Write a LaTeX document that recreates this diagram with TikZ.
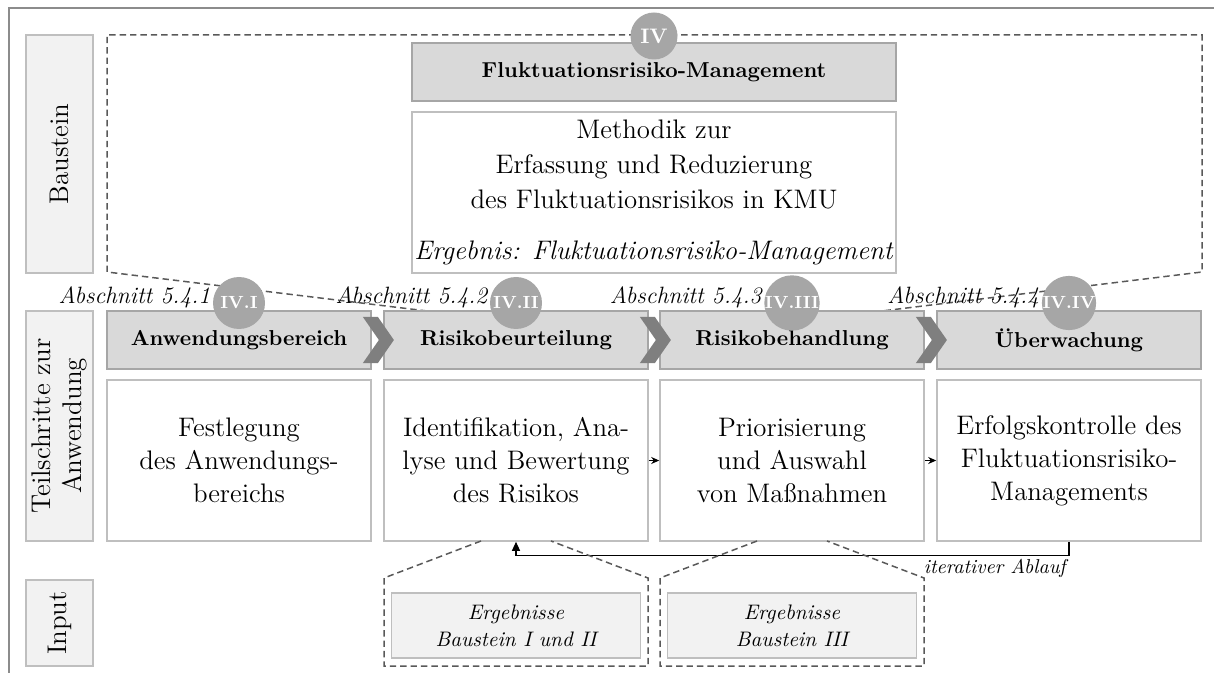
\documentclass[tikz,border=0pt]{standalone}
\usepackage{fontspec}
\usepackage{tikz}
\usetikzlibrary{arrows.meta,positioning,calc}
\definecolor{hdgray}{HTML}{D9D9D9}
\definecolor{lbgray}{HTML}{F2F2F2}
\definecolor{rmgray}{HTML}{BFBFBF}
\definecolor{ctgray}{HTML}{A6A6A6}
\definecolor{chgray}{HTML}{7F7F7F}
\definecolor{dsgray}{HTML}{595959}
\definecolor{frgray}{HTML}{8C8C8C}

\begin{document}
\begin{tikzpicture}[x=0.5pt,y=-0.5pt,>=Stealth,
  lbl/.style={draw=rmgray,fill=lbgray,line width=0.8pt,rotate=90,minimum height=33.5pt,inner sep=0pt,align=center,font=\fontsize{13.5}{15.5}\selectfont},
  hdr/.style={draw=ctgray,fill=hdgray,line width=0.9pt,minimum width=132pt,minimum height=29pt,inner sep=0pt,font=\fontsize{10.8}{13}\selectfont\bfseries},
  cnt/.style={draw=rmgray,fill=white,line width=0.8pt,minimum width=132pt,minimum height=80.5pt,inner sep=0pt,align=center,font=\fontsize{13.4}{16.5}\selectfont},
  badge/.style={circle,fill=ctgray,text=white,minimum size=26pt,inner sep=0pt,font=\fontsize{8.8}{10}\selectfont\bfseries},
  sec/.style={anchor=east,inner sep=1pt,font=\fontsize{11.8}{13}\selectfont\itshape},
  inp/.style={draw=rmgray,fill=lbgray,line width=0.8pt,minimum width=124.5pt,minimum height=32.5pt,inner sep=0pt,align=center,font=\fontsize{10.5}{13.5}\selectfont\itshape},
  fnl/.style={dsgray,dash pattern=on 3.2pt off 2pt,line width=0.75pt}]
\useasboundingbox (0,0) rectangle (1214,673);
\draw[frgray,line width=0.6pt] (9,673) -- (9,8) -- (1214,8);

\coordinate (fl) at (427,311);
\coordinate (fr) at (882,311);
\draw[fnl] (fl) -- (107,272) -- (107,35) -- (1202,35) -- (1202,272) -- (fr);

\node[lbl,minimum width=119pt] (lbau) at (59.5,154) {Baustein};
\node[lbl,minimum width=115pt] (lteil) at (59.5,426) {Teilschritte zur\\Anwendung};
\node[lbl,minimum width=43pt] (linp) at (59.5,623) {Input};

\node[hdr,minimum width=242pt] (mgmt) at (654,72) {Fluktuationsrisiko-Management};
\node[cnt,minimum width=242pt,font=\fontsize{13.4}{17.5}\selectfont] (meth) at (654,192.5)
  {Methodik zur\\Erfassung und Reduzierung\\des Fluktuationsrisikos in KMU\\[8pt]\textit{Ergebnis: Fluktuationsrisiko-Management}};
\node[badge,minimum size=23.5pt,font=\fontsize{10.5}{12}\selectfont\bfseries] (b0) at (654,36) {IV};

\foreach \i/\x/\t in {1/239/Anwendungsbereich,2/516/Risikobeurteilung,3/792/Risikobehandlung,4/1069/Überwachung}
  \node[hdr] (h\i) at (\x,340) {\t};
\foreach \i in {1,2,3}
  \fill[chgray] ($(h\i.east)+(-9,-23)$) -- ++(15,0) -- ++(16,23) -- ++(-16,23) -- ++(-15,0) -- ++(16,-23) -- cycle;

\node[cnt] (c1) at (239,460.5) {Festlegung\\des Anwendungs-\\bereichs};
\node[cnt] (c2) at (516,460.5) {Identifikation, Ana-\\lyse und Bewertung\\des Risikos};
\node[cnt] (c3) at (792,460.5) {Priorisierung\\und Auswahl\\von Maßnahmen};
\node[cnt] (c4) at (1069,460.5) {Erfolgskontrolle des\\Fluktuationsrisiko-\\Managements};

\foreach \i/\x/\r in {1/239/IV.I,2/516/IV.II,3/792/IV.III,4/1069/IV.IV} {
  \node[badge] (b\i) at (\x,303) {\r};
  \node[sec] (s\i) at ($(b\i.west)+(0,-6)$) {Abschnitt 5.4.\i};
}

\draw[-{Stealth[length=4pt,width=3.5pt]},line width=0.5pt] (c2.east) -- (c3.west);
\draw[-{Stealth[length=4pt,width=3.5pt]},line width=0.5pt] (c3.east) -- (c4.west);
\draw[-{Triangle[length=4.5pt,width=4pt]},line width=0.6pt] (c4.south) -- ++(0,14) -| (c2.south);
\node[anchor=north east,inner sep=1pt,font=\fontsize{10}{12}\selectfont\itshape] (iter) at (1068,557) {iterativer Ablauf};

\foreach \x in {516,792}
  \draw[fnl] (\x-35,541) -- (\x-132,578) -- (\x-132,666) -- (\x+132,666) -- (\x+132,578) -- (\x+35,541);
\node[inp] (e2) at (516,625.5) {Ergebnisse\\Baustein I und II};
\node[inp] (e3) at (792,625.5) {Ergebnisse\\Baustein III};
\end{tikzpicture}
\end{document}
